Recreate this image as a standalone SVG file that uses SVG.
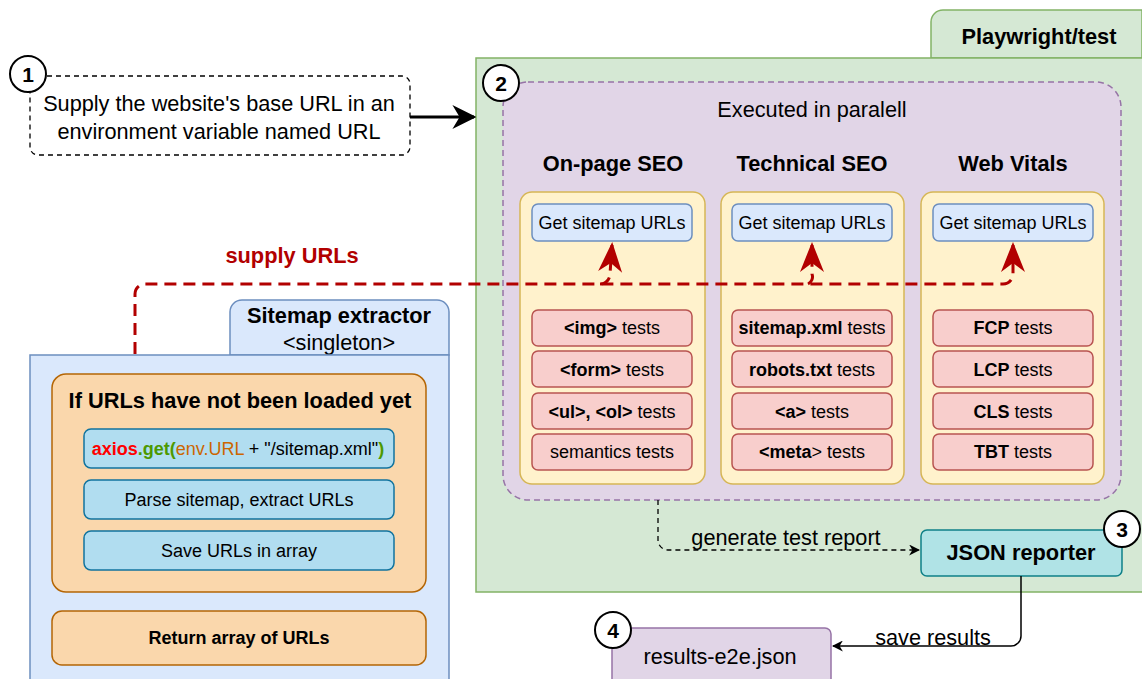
<svg xmlns="http://www.w3.org/2000/svg" width="1142" height="679" viewBox="0 0 1142 679">
<defs>
<style>
text{font-family:"Liberation Sans",Arial,sans-serif;fill:#000;text-anchor:middle;dominant-baseline:central}
.b{font-weight:bold}
.circ{fill:#fff;stroke:#000;stroke-width:2}
.num{font-size:21px;font-weight:bold}
.test{fill:#f8cecc;stroke:#b85450;stroke-width:1.5}
.get{fill:#dae8fc;stroke:#6c8ebf;stroke-width:1.5}
.col{fill:#fff2cc;stroke:#d6b656;stroke-width:1.5}
.step{fill:#b1ddf0;stroke:#10739e;stroke-width:1.5}
.t16{font-size:18px}
.t19{font-size:21.7px}
.h{font-size:21.8px;font-weight:bold}
</style>
<marker id="ah" viewBox="0 0 10 10" refX="9" refY="5" markerWidth="11" markerHeight="11" markerUnits="userSpaceOnUse" orient="auto"><path d="M0,0 L10,5 L0,10 L3,5 Z" fill="#000"/></marker>
<marker id="ahb" viewBox="0 0 10 10" refX="9" refY="5" markerWidth="8" markerHeight="8" markerUnits="strokeWidth" orient="auto"><path d="M0,0 L10,5 L0,10 L3,5 Z" fill="#000"/></marker>
<marker id="ahr" viewBox="0 0 10 10" refX="9" refY="5" markerWidth="10" markerHeight="10" markerUnits="strokeWidth" orient="auto"><path d="M0,1 L10,5 L0,9 L3,5 Z" fill="#b20000"/></marker>
</defs>

<g id="playwright">
<path d="M931,58 V22 a12,12 0 0 1 12,-12 H1142 V58 Z" fill="#d5e8d4" stroke="#82b366" stroke-width="1.5"/>
<text x="1039" y="36" class="h">Playwright/test</text>
<rect x="476" y="58" width="680" height="534" fill="#d5e8d4" stroke="#82b366" stroke-width="1.5"/>
</g>

<g id="parallel">
<rect x="503" y="82" width="618" height="418" rx="25" fill="#e1d5e7" stroke="#9673a6" stroke-width="1.5" stroke-dasharray="6 4"/>
<text x="812" y="109" class="t19">Executed in paralell</text>
</g>

<g id="onpage">
<text x="613" y="163" class="h">On-page SEO</text>
<rect class="col" x="520" y="192" width="185" height="292" rx="12"/>
<rect class="get" x="532" y="204" width="160" height="37" rx="6"/>
<text x="612" y="223" class="t16">Get sitemap URLs</text>
<rect class="test" x="532" y="310" width="160" height="36" rx="6"/>
<text x="612" y="328" class="t16"><tspan class="b">&lt;img&gt;</tspan> tests</text>
<rect class="test" x="532" y="351" width="160" height="36" rx="6"/>
<text x="612" y="370" class="t16"><tspan class="b">&lt;form&gt;</tspan> tests</text>
<rect class="test" x="532" y="393" width="160" height="36" rx="6"/>
<text x="612" y="412" class="t16"><tspan class="b">&lt;ul&gt;, &lt;ol&gt;</tspan> tests</text>
<rect class="test" x="532" y="434" width="160" height="36" rx="6"/>
<text x="612" y="452" class="t16">semantics tests</text>
</g>

<g id="technical">
<text x="812" y="163" class="h">Technical SEO</text>
<rect class="col" x="721" y="192" width="183" height="292" rx="12"/>
<rect class="get" x="732" y="204" width="160" height="37" rx="6"/>
<text x="812" y="223" class="t16">Get sitemap URLs</text>
<rect class="test" x="732" y="310" width="160" height="36" rx="6"/>
<text x="812" y="328" class="t16"><tspan class="b">sitemap.xml</tspan> tests</text>
<rect class="test" x="732" y="351" width="160" height="36" rx="6"/>
<text x="812" y="370" class="t16"><tspan class="b">robots.txt</tspan> tests</text>
<rect class="test" x="732" y="393" width="160" height="36" rx="6"/>
<text x="812" y="412" class="t16"><tspan class="b">&lt;a&gt;</tspan> tests</text>
<rect class="test" x="732" y="434" width="160" height="36" rx="6"/>
<text x="812" y="452" class="t16"><tspan class="b">&lt;meta</tspan>&gt; tests</text>
</g>

<g id="webvitals">
<text x="1013" y="163" class="h">Web Vitals</text>
<rect class="col" x="921" y="192" width="183" height="292" rx="12"/>
<rect class="get" x="933" y="204" width="160" height="37" rx="6"/>
<text x="1013" y="223" class="t16">Get sitemap URLs</text>
<rect class="test" x="933" y="310" width="160" height="36" rx="6"/>
<text x="1013" y="328" class="t16"><tspan class="b">FCP</tspan> tests</text>
<rect class="test" x="933" y="351" width="160" height="36" rx="6"/>
<text x="1013" y="370" class="t16"><tspan class="b">LCP</tspan> tests</text>
<rect class="test" x="933" y="393" width="160" height="36" rx="6"/>
<text x="1013" y="412" class="t16"><tspan class="b">CLS</tspan> tests</text>
<rect class="test" x="933" y="434" width="160" height="36" rx="6"/>
<text x="1013" y="452" class="t16"><tspan class="b">TBT</tspan> tests</text>
</g>

<g id="step1">
<rect x="30" y="76" width="380" height="79" rx="8" fill="#fff" stroke="#000" stroke-width="1.3" stroke-dasharray="5 4"/>
<text x="219" y="103" class="t19">Supply the website's base URL in an</text>
<text x="219" y="131" class="t19">environment variable named URL</text>
<circle class="circ" cx="28" cy="74" r="18"/>
<text x="28" y="74" class="num">1</text>
</g>

<g id="sitemap">
<path d="M230,355 V312 a12,12 0 0 1 12,-12 H437 a12,12 0 0 1 12,12 V355 Z" fill="#dae8fc" stroke="#6c8ebf" stroke-width="1.5"/>
<text x="339" y="315" class="h">Sitemap extractor</text>
<text x="339" y="342" class="t19">&lt;singleton&gt;</text>
<rect x="30" y="355" width="419" height="340" fill="#dae8fc" stroke="#6c8ebf" stroke-width="1.5"/>
<rect x="52" y="374" width="374" height="218" rx="14" fill="#fad7ac" stroke="#b46504" stroke-width="1.5"/>
<text x="240" y="400" class="h">If URLs have not been loaded yet</text>
<rect class="step" x="84" y="429" width="310" height="39" rx="7"/>
<text x="238" y="449" class="t16"><tspan fill="#ff0000" font-weight="bold">axios</tspan><tspan fill="#4d9900" font-weight="bold">.get(</tspan><tspan fill="#cc6600">env.URL</tspan> + "/sitemap.xml"<tspan fill="#4d9900" font-weight="bold">)</tspan></text>
<rect class="step" x="84" y="480" width="310" height="39" rx="7"/>
<text x="239" y="500" class="t16">Parse sitemap, extract URLs</text>
<rect class="step" x="84" y="531" width="310" height="39" rx="7"/>
<text x="239" y="551" class="t16">Save URLs in array</text>
<rect x="52" y="611" width="374" height="54" rx="10" fill="#fad7ac" stroke="#b46504" stroke-width="1.5"/>
<text x="239" y="638" class="b t16">Return array of URLs</text>
</g>

<g id="reporter">
<rect x="921" y="530" width="201" height="46" rx="6" fill="#b0e3e6" stroke="#0e8088" stroke-width="1.5"/>
<text x="1021" y="552" class="h">JSON reporter</text>
<circle class="circ" cx="1122" cy="529" r="18"/>
<text x="1122" y="529" class="num">3</text>
</g>

<g id="results">
<rect x="612" y="628" width="219" height="70" rx="6" fill="#e1d5e7" stroke="#9673a6" stroke-width="1.5"/>
<text x="720" y="656" class="t19">results-e2e.json</text>
<circle class="circ" cx="613" cy="630" r="18"/>
<text x="613" y="630" class="num">4</text>
</g>

<g id="step2">
<circle class="circ" cx="501" cy="83" r="18"/>
<text x="501" y="83" class="num">2</text>
</g>

<g id="connectors">
<line x1="410" y1="117" x2="474" y2="117" stroke="#000" stroke-width="3" marker-end="url(#ahb)"/>
<path d="M135,354 V294 a10,10 0 0 1 10,-10 H1003 a10,10 0 0 0 10,-10 V245" fill="none" stroke="#b20000" stroke-width="3" stroke-dasharray="12 7" marker-end="url(#ahr)"/>
<path d="M600,284 a10,10 0 0 0 10,-10 l2,-29" fill="none" stroke="#b20000" stroke-width="3" stroke-dasharray="12 7" marker-end="url(#ahr)"/>
<path d="M808,284 a8,8 0 0 0 4,-10 V245" fill="none" stroke="#b20000" stroke-width="3" stroke-dasharray="12 7" marker-end="url(#ahr)"/>
<text x="292" y="255" class="h" style="fill:#b20000">supply URLs</text>
<path d="M658,500 V540 a10,10 0 0 0 10,10 H919" fill="none" stroke="#000" stroke-width="1.3" stroke-dasharray="5 4" marker-end="url(#ah)"/>
<text x="786" y="537" class="t19">generate test report</text>
<path d="M1021,576 V636 a10,10 0 0 1 -10,10 H833" fill="none" stroke="#000" stroke-width="1.5" marker-end="url(#ah)"/>
<text x="933" y="637" class="t19">save results</text>
</g>
</svg>
